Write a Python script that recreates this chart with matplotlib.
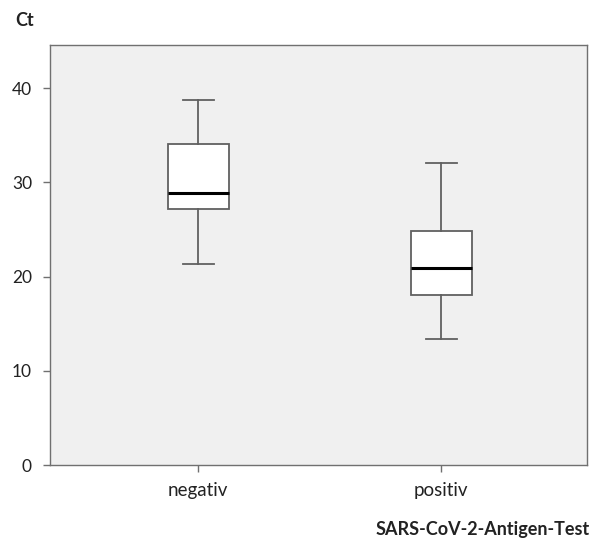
import matplotlib.pyplot as plt

plt.rcParams['font.family'] = ['Lato', 'DejaVu Sans']

groups = ['negativ', 'positiv']
whislo = [21.3, 13.4]
q1 = [27.2, 18.0]
med = [28.9, 20.9]
q3 = [34.1, 24.9]
whishi = [38.8, 32.1]

stats = []
for i in range(len(groups)):
    stats.append({'label': groups[i], 'whislo': whislo[i], 'q1': q1[i],
                  'med': med[i], 'q3': q3[i], 'whishi': whishi[i]})

fig = plt.figure(figsize=(5.95, 5.42), dpi=100)
ax = fig.add_axes([50 / 595, 1 - 465 / 542, 537 / 595, 420 / 542])
ax.set_facecolor('#f0f0f0')

line_col = '#606060'
ax.bxp(stats, positions=[1, 2], widths=0.25, showfliers=False, patch_artist=True,
       boxprops=dict(facecolor='white', edgecolor=line_col, linewidth=1.3),
       whiskerprops=dict(color=line_col, linewidth=1.3),
       capprops=dict(color=line_col, linewidth=1.3),
       medianprops=dict(color='black', linewidth=2.2),
       capwidths=0.126)

ax.set_xlim(0.39, 2.6)
ax.set_ylim(0, 44.6)
ax.set_yticks([0, 10, 20, 30, 40])
ax.set_xticks([1, 2])
ax.set_xticklabels(groups)
for s in ax.spines.values():
    s.set_color('#707070')
    s.set_linewidth(1.0)
ax.tick_params(axis='both', colors='#707070', labelcolor='#222222', labelsize=12.5,
               length=5, width=1.0, pad=8)
ax.tick_params(axis='x', labelsize=13.5, pad=7)

fig.text(15 / 595, 1 - 20 / 542, 'Ct', fontsize=13, fontweight='bold',
         ha='left', va='center', color='#222222')
fig.text(590 / 595, 1 - 530 / 542, 'SARS-CoV-2-Antigen-Test', fontsize=13,
         fontweight='bold', ha='right', va='center', color='#222222')

fig.savefig('out.png', dpi=100)
